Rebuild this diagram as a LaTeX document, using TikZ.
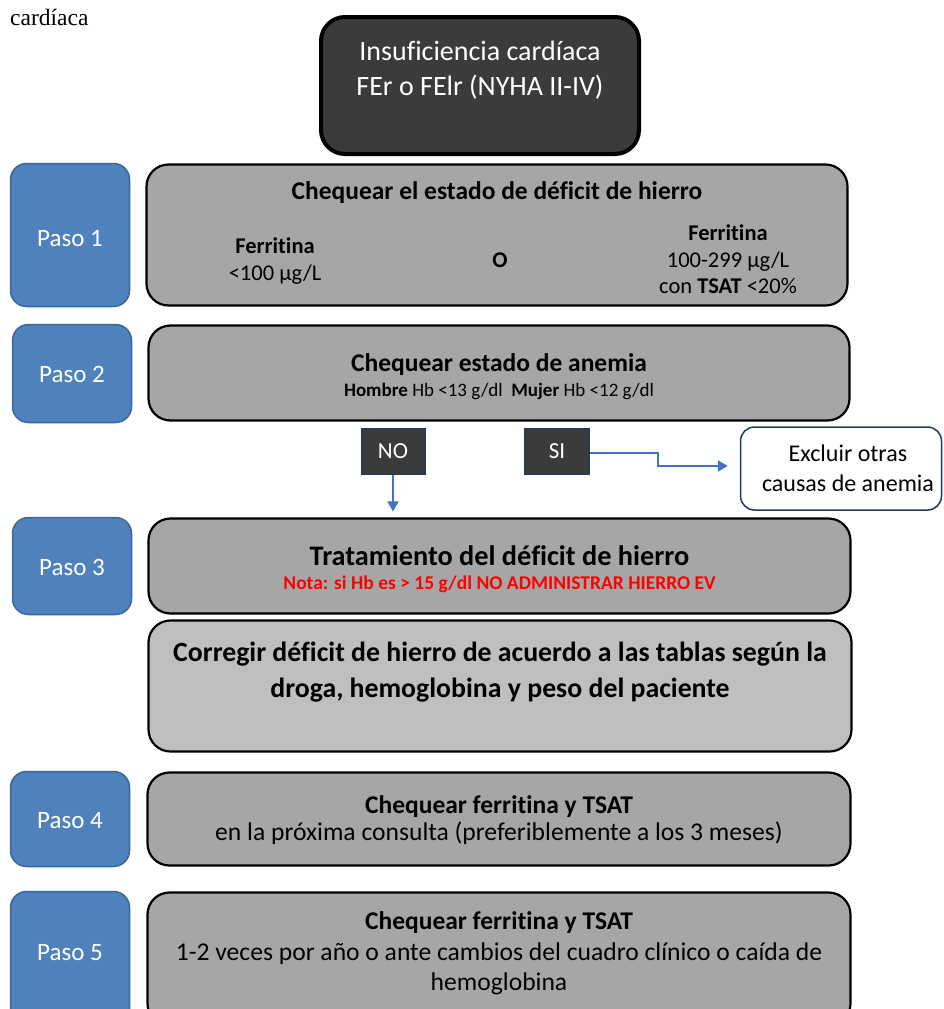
\documentclass[tikz,border=0pt]{standalone}
\usepackage{fontspec}
\setmainfont{Carlito}[Ligatures=NoCommon]
\newfontfamily\tnr{Liberation Serif}
\usetikzlibrary{arrows.meta}
\definecolor{pasoblue}{HTML}{4F81BD}
\definecolor{pasoedge}{HTML}{3A679C}
\definecolor{boxgray}{HTML}{A6A6A6}
\definecolor{boxlight}{HTML}{BFBFBF}
\definecolor{darkbox}{HTML}{3B3B3B}
\definecolor{arrowblue}{HTML}{4472C4}
\definecolor{navyedge}{HTML}{1F3A60}
\definecolor{notered}{HTML}{FF0000}
\newcommand\fsz[2]{\fontsize{#1}{#2}\selectfont}
\tikzset{
  pasobox/.style={draw=pasoedge, line width=1.5pt, fill=pasoblue, rounded corners=16pt, inner sep=0pt},
  stepbox/.style={draw=black, line width=2.2pt, fill=boxgray, rounded corners=22pt, inner sep=0pt},
  topbox/.style={draw=black, line width=4pt, fill=darkbox, rounded corners=24pt, inner sep=0pt},
  decbox/.style={draw=navyedge, line width=1pt, fill=darkbox, inner sep=0pt, text=white, font=\fsz{23}{27}},
  exclbox/.style={draw=navyedge, line width=1.5pt, fill=white, rounded corners=14pt, inner sep=0pt},
  txt/.style={inner sep=0pt, anchor=base},
  pasotxt/.style={txt, text=white, font=\fsz{25}{30}},
  flow/.style={draw=arrowblue, line width=2.3pt, -{Triangle[length=10pt,width=11pt]}}
}
\begin{document}
\begin{tikzpicture}[x=1pt,y=-1pt]
\useasboundingbox (0,0) rectangle (943,1009);
\clip (0,0) rectangle (943,1009);
% caption fragment
\node[txt, anchor=base west, font=\tnr\fsz{23.5}{28}] (cap) at (10,25) {cardíaca};
% top box
\node[topbox, minimum width=318pt, minimum height=137pt] (top) at (480,85.5) {};
\node[txt, text=white, font=\fsz{28}{32}] (top1) at (480,60) {Insuficiencia cardíaca};
\node[txt, text=white, font=\fsz{28}{32}] (top2) at (480,95) {FEr o FElr (NYHA II-IV)};
% Paso 1
\node[pasobox, minimum width=119pt, minimum height=143pt] (p1) at (70,235) {};
\node[pasotxt] (p1t) at (70,246) {Paso 1};
\node[stepbox, minimum width=701pt, minimum height=141pt] (s1) at (497,235) {};
\node[txt, font=\bfseries\fsz{25.5}{30}] (s1a) at (497,199) {Chequear el estado de déficit de hierro};
\node[txt, font=\bfseries\fsz{22.5}{27}] (s1b) at (275,253) {Ferritina};
\node[txt, font=\fsz{22.5}{27}] (s1c) at (275,280) {<100 µg/L};
\node[txt, font=\bfseries\fsz{22.5}{27}] (s1o) at (500,267) {O};
\node[txt, font=\bfseries\fsz{22.5}{27}] (s1d) at (728,240) {Ferritina};
\node[txt, font=\fsz{22.5}{27}] (s1e) at (728,267) {100-299 µg/L};
\node[txt, font=\fsz{22.5}{27}] (s1f) at (728,293) {con \textbf{TSAT} <20\%};
% Paso 2
\node[pasobox, minimum width=119pt, minimum height=98pt] (p2) at (72,373.5) {};
\node[pasotxt] (p2t) at (72,382) {Paso 2};
\node[stepbox, minimum width=701pt, minimum height=95pt] (s2) at (499,373) {};
\node[txt, font=\bfseries\fsz{25.5}{30}] (s2a) at (499,371) {Chequear estado de anemia};
\node[txt, font=\fsz{19}{23}] (s2b) at (499,396) {\textbf{Hombre} Hb <13 g/dl\ \ \textbf{Mujer} Hb <12 g/dl};
% decisions
\node[decbox, minimum width=64pt, minimum height=46pt] (no) at (393,451) {NO};
\node[decbox, minimum width=65pt, minimum height=46pt] (si) at (557,451) {SI};
\node[exclbox, minimum width=201pt, minimum height=83pt] (ex) at (841,468.5) {};
\node[txt, font=\fsz{24}{28}] (ex1) at (848,461) {Excluir otras};
\node[txt, font=\fsz{24}{28}] (ex2) at (848,491) {causas de anemia};
% Paso 3
\node[pasobox, minimum width=119pt, minimum height=97pt] (p3) at (72,566) {};
\node[pasotxt] (p3t) at (72,575) {Paso 3};
\node[stepbox, minimum width=702pt, minimum height=95pt] (s3) at (499.5,566) {};
\node[txt, font=\bfseries\fsz{28.3}{33}] (s3a) at (499.5,565) {Tratamiento del déficit de hierro};
\node[txt, text=notered, font=\bfseries\fsz{19.5}{23}] (s3b) at (499.5,589) {Nota: si Hb es > 15 g/dl NO ADMINISTRAR HIERRO EV};
\node[stepbox, fill=boxlight, minimum width=703pt, minimum height=131pt] (s3c) at (500,686) {};
\node[txt, font=\bfseries\fsz{27.8}{33}] (s3c1) at (500,661) {Corregir déficit de hierro de acuerdo a las tablas según la};
\node[txt, font=\bfseries\fsz{27.8}{33}] (s3c2) at (500,697) {droga, hemoglobina y peso del paciente};
% Paso 4
\node[pasobox, minimum width=119pt, minimum height=95pt] (p4) at (70,819) {};
\node[pasotxt] (p4t) at (70,828) {Paso 4};
\node[stepbox, minimum width=703pt, minimum height=93pt] (s4) at (499,819) {};
\node[txt, font=\bfseries\fsz{25.5}{30}] (s4a) at (499,813) {Chequear ferritina y TSAT};
\node[txt, font=\fsz{25.6}{30}] (s4b) at (499,840) {en la próxima consulta (preferiblemente a los 3 meses)};
% Paso 5
\node[pasobox, minimum width=119pt, minimum height=135pt] (p5) at (70,959) {};
\node[pasotxt] (p5t) at (70,960) {Paso 5};
\node[stepbox, minimum width=703pt, minimum height=133pt] (s5) at (499,959) {};
\node[txt, font=\bfseries\fsz{25.5}{30}] (s5a) at (499,929) {Chequear ferritina y TSAT};
\node[txt, font=\fsz{25.6}{30}] (s5b) at (499,960) {1-2 veces por año o ante cambios del cuadro clínico o caída de};
\node[txt, font=\fsz{25.6}{30}] (s5c) at (499,990) {hemoglobina};
% connectors
\draw[flow] (no.south) -- ([yshift=6pt]no.south |- s3.north);
\coordinate (sibend) at (658,453);
\draw[flow] (si.east |- sibend) -- (sibend) -- (658,466) -- ([xshift=-12pt]ex.west |- 0,466);
\end{tikzpicture}
\end{document}
